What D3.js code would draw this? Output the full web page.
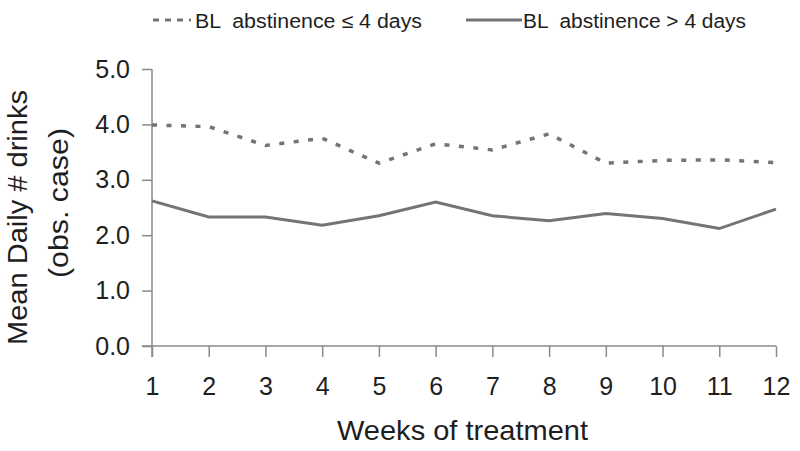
<!DOCTYPE html>
<html><head><meta charset="utf-8">
<script src="https://cdn.jsdelivr.net/npm/d3@7"></script>
<style>body{margin:0;background:#fff}svg{display:block}text{white-space:pre}</style>
</head><body>
<svg id="c" width="800" height="451"></svg>
<script>
const weeks = [1,2,3,4,5,6,7,8,9,10,11,12];
const lowAbst = [3.99,3.96,3.62,3.75,3.30,3.65,3.54,3.83,3.30,3.35,3.36,3.31];
const highAbst = [2.62,2.33,2.33,2.18,2.35,2.60,2.35,2.26,2.39,2.30,2.12,2.47];
const yTicks = [0,1,2,3,4,5];
const seriesNames = ["BL  abstinence \u2264 4 days","BL  abstinence > 4 days"];

const svg = d3.select("#c");
const x = d3.scaleLinear().domain([1,12]).range([152,776]);
const y = d3.scaleLinear().domain([0,5]).range([346,69]);
const axisColor = "#8a8a8a";
const lineColor = "#747474";
const textColor = "#1e1e1e";
const font = "Liberation Sans, Arial, sans-serif";

// Y axis
const ya = svg.append("g").attr("transform","translate(152,0)")
  .call(d3.axisLeft(y).tickValues(yTicks).tickFormat(d3.format(".1f")).tickSize(10).tickPadding(12));
ya.select(".domain").attr("stroke",axisColor).attr("stroke-width",1.5).attr("d","M0,69V357");
ya.selectAll(".tick line").attr("stroke",axisColor).attr("stroke-width",1.5);
ya.selectAll(".tick text").attr("font-family",font).attr("font-size",25).attr("fill",textColor);

// X axis
const xa = svg.append("g").attr("transform","translate(0,346)")
  .call(d3.axisBottom(x).tickValues(weeks).tickFormat(d3.format("d")).tickSize(11).tickPadding(20));
xa.select(".domain").attr("stroke",axisColor).attr("stroke-width",1.5).attr("d","M142,0H776");
xa.selectAll(".tick line").attr("stroke",axisColor).attr("stroke-width",1.5);
xa.selectAll(".tick text").attr("font-family",font).attr("font-size",25).attr("fill",textColor);

// Titles
svg.append("text").attr("x",337).attr("y",440)
  .attr("font-family",font).attr("font-size",28).attr("fill",textColor)
  .attr("textLength",251).attr("lengthAdjust","spacingAndGlyphs").text("Weeks of treatment");
svg.append("text").attr("transform","translate(27,345) rotate(-90)")
  .attr("font-family",font).attr("font-size",28).attr("fill",textColor)
  .attr("textLength",255).attr("lengthAdjust","spacingAndGlyphs").text("Mean Daily # drinks");
svg.append("text").attr("transform","translate(68,278) rotate(-90)")
  .attr("font-family",font).attr("font-size",28).attr("fill",textColor)
  .attr("textLength",150).attr("lengthAdjust","spacingAndGlyphs").text("(obs. case)");

// Lines
const line = d3.line().x((d,i)=>x(weeks[i])).y(d=>y(d));
svg.append("path").datum(lowAbst).attr("d",line).attr("fill","none")
  .attr("stroke",lineColor).attr("stroke-width",3.5).attr("stroke-dasharray","5,9.5");
svg.append("path").datum(highAbst).attr("d",line).attr("fill","none")
  .attr("stroke",lineColor).attr("stroke-width",3);

// Legend
svg.append("line").attr("x1",153).attr("x2",191).attr("y1",20).attr("y2",20)
  .attr("stroke",lineColor).attr("stroke-width",3).attr("stroke-dasharray","6,6");
svg.append("text").attr("x",195).attr("y",28).attr("font-family",font).attr("font-size",20)
  .attr("fill",textColor).attr("textLength",227).attr("lengthAdjust","spacingAndGlyphs").text(seriesNames[0]);
svg.append("line").attr("x1",466).attr("x2",522).attr("y1",20).attr("y2",20)
  .attr("stroke",lineColor).attr("stroke-width",3);
svg.append("text").attr("x",523).attr("y",28).attr("font-family",font).attr("font-size",20)
  .attr("fill",textColor).attr("textLength",223).attr("lengthAdjust","spacingAndGlyphs").text(seriesNames[1]);
</script>
</body></html>
